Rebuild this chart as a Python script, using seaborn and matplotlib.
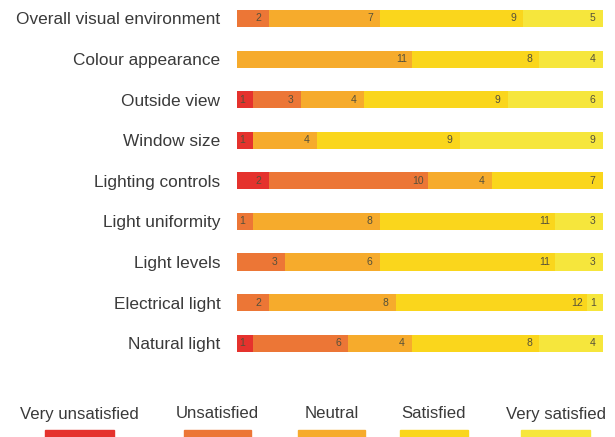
import matplotlib
matplotlib.use("Agg")
import matplotlib.pyplot as plt
import pandas as pd
import seaborn as sns
from matplotlib.patches import Rectangle

# data
items = ["Overall visual environment", "Colour appearance", "Outside view",
         "Window size", "Lighting controls", "Light uniformity",
         "Light levels", "Electrical light", "Natural light"]
levels = ["Very unsatisfied", "Unsatisfied", "Neutral", "Satisfied", "Very satisfied"]
very_unsatisfied = [0, 0, 1, 1, 2, 0, 0, 0, 1]
unsatisfied = [2, 0, 3, 0, 10, 1, 3, 2, 6]
neutral = [7, 11, 4, 4, 4, 8, 6, 8, 4]
satisfied = [9, 8, 9, 9, 7, 11, 11, 12, 8]
very_satisfied = [5, 4, 6, 9, 0, 3, 3, 1, 4]
colors = ["#e5322d", "#ec7636", "#f6ab2c", "#fad61c", "#f6e63c"]

df = pd.DataFrame({"item": items,
                   "Very unsatisfied": very_unsatisfied,
                   "Unsatisfied": unsatisfied,
                   "Neutral": neutral,
                   "Satisfied": satisfied,
                   "Very satisfied": very_satisfied})
cum = df[levels].cumsum(axis=1)
cum["item"] = df["item"]

sns.set_style("white")
plt.rcParams["font.family"] = ["Liberation Sans", "DejaVu Sans"]

fig = plt.figure(figsize=(6.15, 4.37), dpi=100)
ax = fig.add_axes([237 / 615, 0.1728, (603 - 237) / 615, 0.8268])

# stacked bars: draw cumulative totals from the top level down
for lev, col in zip(reversed(levels), reversed(colors)):
    sns.barplot(data=cum, x=lev, y="item", order=items, color=col,
                width=0.42, saturation=1, ax=ax, linewidth=0)

# value labels near the end of each segment
for i, item in enumerate(items):
    for lev in levels:
        v = df.loc[i, lev]
        if v > 0:
            ax.text(cum.loc[i, lev] - 0.65, i, str(v), ha="center", va="center",
                    fontsize=7.5, color="#55503a")

ax.set_xlim(0, 23)
ax.set_ylim(8.45, -0.45)
ax.set_xlabel("")
ax.set_ylabel("")
ax.set_xticks([])
ax.tick_params(axis="y", length=0, pad=12, labelsize=12.4, labelcolor="#3a3a3a")
sns.despine(ax=ax, left=True, bottom=True)

# legend: label above, colour patch below
leg_x = [(45, 114), (184, 251), (298, 365), (400, 468), (521, 590)]
for (x0, x1), lev, col in zip(leg_x, levels, colors):
    fig.text((x0 + x1) / 2 / 615, (437 - 414) / 437, lev, ha="center", va="center",
             fontsize=12.1, color="#3a3a3a")
    fig.patches.append(Rectangle((x0 / 615, 0), (x1 - x0) / 615, 7 / 437,
                                 transform=fig.transFigure, color=col))

fig.savefig("out.png", dpi=100)
